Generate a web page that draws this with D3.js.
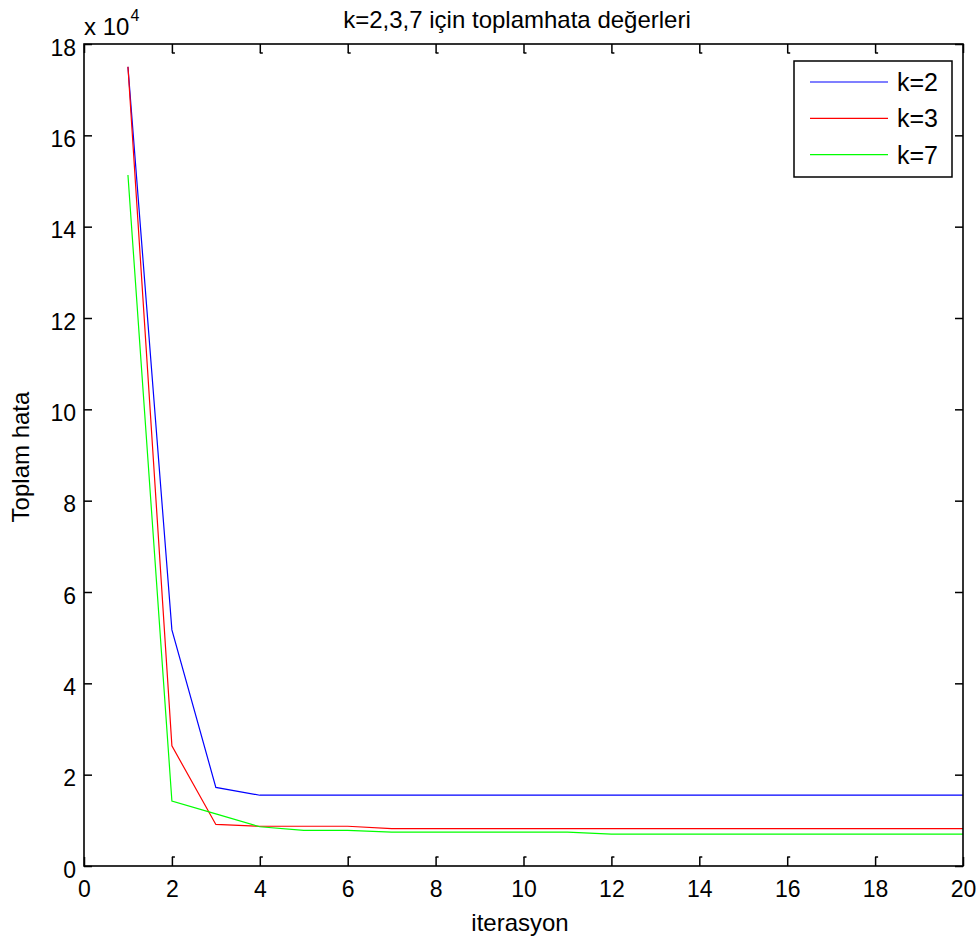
<!DOCTYPE html>
<html>
<head>
<meta charset="utf-8">
<script src="https://cdn.jsdelivr.net/npm/d3@7"></script>
<style>
  body { margin: 0; background: #fff; }
  text { font-family: "Liberation Sans", Arial, sans-serif; fill: #000; }
</style>
</head>
<body>
<div id="chart"></div>
<script>
const iterations = d3.range(1, 21)
const xTicks = d3.range(0, 21, 2)
const yTicks = d3.range(0, 19, 2)

// values in units of 10^4
const k2 = [17.5, 5.17, 1.72, 1.55, 1.55, 1.55, 1.55, 1.55, 1.55, 1.55,
            1.55, 1.55, 1.55, 1.55, 1.55, 1.55, 1.55, 1.55, 1.55, 1.55]
const k3 = [17.5, 2.63, 0.91, 0.87, 0.87, 0.87, 0.82, 0.82, 0.82, 0.82,
            0.82, 0.82, 0.82, 0.82, 0.82, 0.82, 0.82, 0.82, 0.82, 0.82]
const k7 = [15.13, 1.42, 1.14, 0.86, 0.78, 0.78, 0.74, 0.74, 0.74, 0.74,
            0.74, 0.70, 0.70, 0.70, 0.70, 0.70, 0.70, 0.70, 0.70, 0.70]

const series = [
  { name: 'k=2', values: k2, color: '#0000ff' },
  { name: 'k=3', values: k3, color: '#ff0000' },
  { name: 'k=7', values: k7, color: '#00ff00' }
]

const width = 980, height = 941
const margin = { left: 84, right: 17, top: 44, bottom: 75 }

let x = d3.scaleLinear().domain([0, 20]).range([margin.left, width - margin.right])
let y = d3.scaleLinear().domain([0, 18]).range([height - margin.bottom, margin.top])

let svg = d3.select('#chart').append('svg')
  .attr('width', width)
  .attr('height', height)

// lines
let line = d3.line()
  .x((d, i) => x(iterations[i]))
  .y(d => y(d))

svg.selectAll('.series').data(series).enter()
  .append('path')
    .attr('class', 'series')
    .attr('d', s => line(s.values))
    .attr('fill', 'none')
    .attr('stroke', s => s.color)
    .attr('stroke-width', 1.2)

// axes with inward ticks (matlab style)
let styleAxis = g => g
  .call(g => g.selectAll('.domain').remove())
  .call(g => g.selectAll('.tick line').attr('stroke', '#000').attr('stroke-width', 1.5))

svg.append('g')
  .attr('transform', `translate(0, ${y(0)})`)
  .call(d3.axisBottom(x).tickValues(xTicks).tickSize(-9))
  .call(styleAxis)
  .call(g => g.selectAll('.tick text').attr('font-size', 23).attr('y', 31).attr('dy', 0))

svg.append('g')
  .attr('transform', `translate(0, ${y(18)})`)
  .call(d3.axisTop(x).tickValues(xTicks).tickSize(-9).tickFormat(''))
  .call(styleAxis)

svg.append('g')
  .attr('transform', `translate(${x(0)}, 0)`)
  .call(d3.axisLeft(y).tickValues(yTicks).tickSize(-8))
  .call(styleAxis)
  .call(g => g.selectAll('.tick text').attr('font-size', 23).attr('x', -8).attr('dy', '0.48em'))

svg.append('g')
  .attr('transform', `translate(${x(20)}, 0)`)
  .call(d3.axisRight(y).tickValues(yTicks).tickSize(-8).tickFormat(''))
  .call(styleAxis)

// little feet on the x ticks
svg.selectAll('.foot-top').data(xTicks.slice(1, -1)).enter()
  .append('line')
    .attr('x1', d => x(d)).attr('x2', d => x(d) + 3)
    .attr('y1', y(18) + 9).attr('y2', y(18) + 9)
    .attr('stroke', '#000').attr('stroke-width', 1.5)
svg.selectAll('.foot-bottom').data(xTicks.slice(1, -1)).enter()
  .append('line')
    .attr('x1', d => x(d)).attr('x2', d => x(d) + 3)
    .attr('y1', y(0) - 9).attr('y2', y(0) - 9)
    .attr('stroke', '#000').attr('stroke-width', 1.5)

// box
svg.append('rect')
  .attr('x', x(0)).attr('y', y(18))
  .attr('width', x(20) - x(0)).attr('height', y(0) - y(18))
  .attr('fill', 'none')
  .attr('stroke', '#000')
  .attr('stroke-width', 1.6)

// exponent
let expo = svg.append('text')
  .attr('x', x(0)).attr('y', 35)
  .attr('font-size', 24)
expo.append('tspan').text('x 10')
expo.append('tspan').text('4').attr('font-size', 16).attr('dy', -14).attr('dx', 1)

// title and labels
svg.append('text')
  .attr('x', 517).attr('y', 28)
  .attr('text-anchor', 'middle')
  .attr('font-size', 24)
  .text('k=2,3,7 için toplamhata değerleri')

svg.append('text')
  .attr('x', 520).attr('y', 931)
  .attr('text-anchor', 'middle')
  .attr('font-size', 24)
  .text('iterasyon')

svg.append('text')
  .attr('transform', `translate(29, 457) rotate(-90)`)
  .attr('text-anchor', 'middle')
  .attr('font-size', 24)
  .text('Toplam hata')

// legend
let legend = svg.append('g').attr('transform', 'translate(794, 61)')
legend.append('rect')
  .attr('width', 158).attr('height', 116)
  .attr('fill', '#fff')
  .attr('stroke', '#000')
  .attr('stroke-width', 1.5)

let items = legend.selectAll('.item').data(series).enter()
  .append('g')
    .attr('class', 'item')
    .attr('transform', (s, i) => `translate(0, ${21 + i * 36.3})`)
items.append('line')
  .attr('x1', 16).attr('x2', 94)
  .attr('stroke', s => s.color)
  .attr('stroke-width', 1.2)
items.append('text')
  .attr('x', 103).attr('dy', '0.36em')
  .attr('font-size', 25)
  .text(s => s.name)
</script>
</body>
</html>
